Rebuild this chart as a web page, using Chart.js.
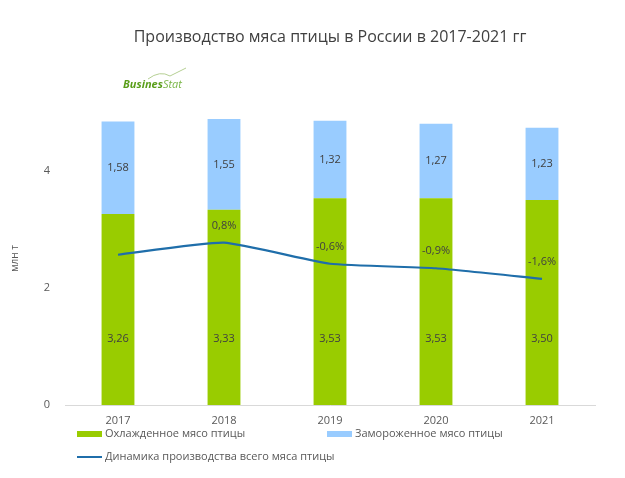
<!DOCTYPE html>
<html lang="ru">
<head>
    <meta charset="UTF-8">
    <title>Производство мяса птицы в России</title>
    <script src="https://cdn.jsdelivr.net/npm/chart.js"></script>
    <style>
        body { margin: 0; background: #ffffff; }
        #wrap { width: 625px; height: 478px; position: relative; }
    </style>
</head>
<body>
    <div id="wrap"><canvas id="meatChart"></canvas></div>
    <script>
        // данные с графика
        const years = ['2017', '2018', '2019', '2020', '2021'];
        const chilled = [3.26, 3.33, 3.53, 3.53, 3.50];
        const frozen = [1.58, 1.55, 1.32, 1.27, 1.23];
        const growth = [0.0, 0.8, -0.6, -0.9, -1.6];
        const yTicks = [0, 2, 4];

        const FONT = "'Open Sans', sans-serif";
        const TEXT = '#595959';
        const TITLE = 'Производство мяса птицы в России в 2017-2021 гг';

        function fmt(v, d) {
            return v.toFixed(d).replace('.', ',');
        }

        // подписи значений, заголовок, легенда и логотип
        const decorPlugin = {
            id: 'decor',
            afterDatasetsDraw(chart) {
                const ctx = chart.ctx;
                ctx.save();
                ctx.font = '11px ' + FONT;
                ctx.fillStyle = '#404040';
                ctx.textAlign = 'center';
                ctx.textBaseline = 'middle';

                chart.getDatasetMeta(0).data.forEach((bar, i) => {
                    ctx.fillText(fmt(chilled[i], 2), bar.x, bar.base - 66);
                });
                chart.getDatasetMeta(1).data.forEach((bar, i) => {
                    ctx.fillText(fmt(frozen[i], 2), bar.x, (bar.y + bar.base) / 2);
                });
                chart.getDatasetMeta(2).data.forEach((pt, i) => {
                    if (i === 0) return;
                    ctx.fillText(fmt(growth[i], 1) + '%', pt.x, pt.y - 17);
                });
                ctx.restore();
            },
            afterDraw(chart) {
                const ctx = chart.ctx;
                const area = chart.chartArea;
                const left = area.left;
                ctx.save();

                // заголовок
                ctx.font = '16px ' + FONT;
                ctx.fillStyle = '#404040';
                ctx.textAlign = 'center';
                ctx.textBaseline = 'middle';
                ctx.fillText(TITLE, (area.left + area.right) / 2, 37);

                // легенда
                ctx.textAlign = 'left';
                ctx.font = '11px ' + FONT;
                ctx.fillStyle = '#99cc00';
                ctx.fillRect(left + 12, 431, 25, 6);
                ctx.fillStyle = '#99ccff';
                ctx.fillRect(left + 262, 431, 25, 6);
                ctx.strokeStyle = '#1f6eaa';
                ctx.lineWidth = 2;
                ctx.beginPath();
                ctx.moveTo(left + 12, 457);
                ctx.lineTo(left + 37, 457);
                ctx.stroke();
                ctx.fillStyle = TEXT;
                ctx.fillText('Охлажденное мясо птицы', left + 40, 434);
                ctx.fillText('Замороженное мясо птицы', left + 290, 434);
                ctx.fillText('Динамика производства всего мяса птицы', left + 40, 457);

                // логотип
                ctx.font = 'italic bold 11px ' + FONT;
                ctx.fillStyle = '#5a9e1a';
                ctx.textBaseline = 'alphabetic';
                ctx.fillText('Busines', 123, 88);
                const w = ctx.measureText('Busines').width;
                ctx.font = 'italic 11px ' + FONT;
                ctx.fillStyle = '#7ab648';
                ctx.fillText('Stat', 123 + w, 88);
                ctx.strokeStyle = '#b5cf93';
                ctx.lineWidth = 1;
                ctx.beginPath();
                ctx.moveTo(148, 79);
                ctx.quadraticCurveTo(160, 70, 170, 76);
                ctx.quadraticCurveTo(178, 72, 186, 68);
                ctx.stroke();
                ctx.restore();
            }
        };

        const ctx = document.getElementById('meatChart').getContext('2d');
        new Chart(ctx, {
            type: 'bar',
            data: {
                labels: years,
                datasets: [
                    {
                        label: 'Охлажденное мясо птицы',
                        data: chilled,
                        backgroundColor: '#99cc00',
                        stack: 's',
                        yAxisID: 'y',
                        barPercentage: 0.31,
                        categoryPercentage: 1,
                        order: 2
                    },
                    {
                        label: 'Замороженное мясо птицы',
                        data: frozen,
                        backgroundColor: '#99ccff',
                        stack: 's',
                        yAxisID: 'y',
                        barPercentage: 0.31,
                        categoryPercentage: 1,
                        order: 2
                    },
                    {
                        type: 'line',
                        label: 'Динамика производства всего мяса птицы',
                        data: growth,
                        borderColor: '#1f6eaa',
                        borderWidth: 2.2,
                        pointRadius: 0,
                        tension: 0.15,
                        yAxisID: 'y1',
                        order: 1
                    }
                ]
            },
            plugins: [decorPlugin],
            options: {
                responsive: true,
                maintainAspectRatio: false,
                animation: false,
                layout: { padding: { top: 112, right: 30, bottom: 50, left: 0 } },
                plugins: {
                    legend: { display: false },
                    tooltip: { enabled: false },
                    title: { display: false }
                },
                scales: {
                    x: {
                        stacked: true,
                        grid: { display: false },
                        border: { color: '#d9d9d9', width: 1 },
                        ticks: { color: TEXT, font: { family: FONT, size: 11 }, padding: 1 },
                        afterFit(scale) { scale.height = 23; }
                    },
                    y: {
                        stacked: true,
                        min: 0,
                        max: 5,
                        grid: { display: false, drawTicks: false },
                        border: { display: false },
                        afterBuildTicks(scale) {
                            scale.ticks = yTicks.map(v => ({ value: v }));
                        },
                        ticks: { color: TEXT, font: { family: FONT, size: 11 }, padding: 15 },
                        title: {
                            display: true,
                            text: 'млн т',
                            color: TEXT,
                            font: { family: FONT, size: 10 },
                            padding: { top: 9, bottom: 0 }
                        },
                        afterFit(scale) { scale.width = 65; }
                    },
                    y1: {
                        display: false,
                        min: -10,
                        max: 9.5
                    }
                }
            }
        });
    </script>
</body>
</html>
